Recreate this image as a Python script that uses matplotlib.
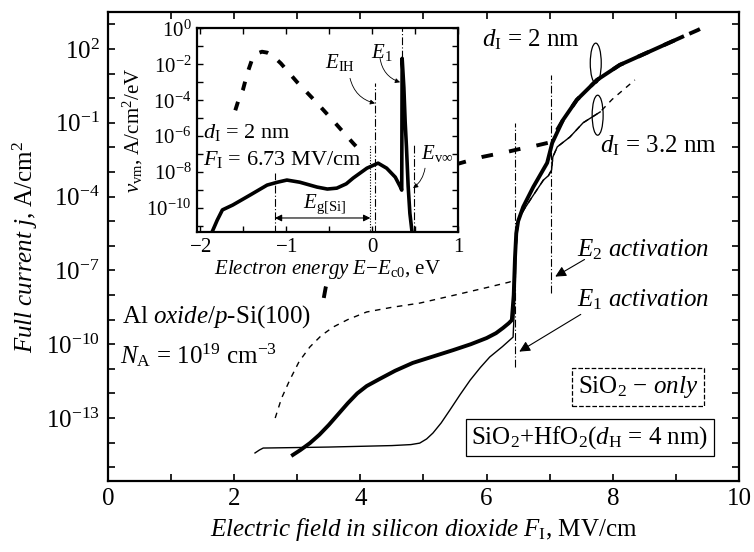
import numpy as np
import matplotlib
matplotlib.use("Agg")
import matplotlib.pyplot as plt
from matplotlib.patches import Ellipse, Rectangle
from matplotlib.ticker import FixedLocator, NullFormatter

plt.rcParams['font.family'] = ['Liberation Serif', 'DejaVu Serif']
plt.rcParams['mathtext.fontset'] = 'custom'
plt.rcParams['mathtext.rm'] = 'Liberation Serif'
plt.rcParams['mathtext.it'] = 'Liberation Serif:italic'
plt.rcParams['mathtext.bf'] = 'Liberation Serif:bold'

# ---- main plot: field F_I (MV/cm) vs log10 of full current j (A/cm^2)
# d_I = 2 nm, SiO2 + HfO2 (thick solid)
thick_hf_x = [2.93, 3.05, 3.2, 3.35, 3.5, 3.65, 3.8, 3.95, 4.1, 4.3, 4.55, 4.83, 5.15,
              5.47, 5.75, 6.0, 6.15, 6.26, 6.35, 6.4, 6.43, 6.45, 6.47, 6.5, 6.58, 6.74,
              6.96, 7.04, 7.21, 7.43, 7.75, 8.11, 8.64, 9.1]
thick_hf_logj = [-14.5, -14.3, -14.02, -13.68, -13.28, -12.84, -12.4, -12.0, -11.7, -11.42,
                 -11.08, -10.76, -10.5, -10.24, -10.0, -9.75, -9.55, -9.34, -9.15, -9.02,
                 -8.0, -6.5, -5.5, -5.0, -4.42, -3.61, -2.63, -1.82, -0.89, -0.07, 0.74,
                 1.35, 1.96, 2.49]
# d_I = 3.2 nm, SiO2 + HfO2 (thin solid)
thin_hf_x = [2.33, 2.4, 2.46, 3.0, 3.5, 4.0, 4.5, 4.8, 4.94, 5.05, 5.15, 5.28, 5.42, 5.58,
             5.74, 5.9, 6.05, 6.25, 6.42, 6.45, 6.47, 6.5, 6.6, 6.69, 6.9, 6.98, 7.03, 7.05,
             7.12, 7.32, 7.53, 7.8]
thin_hf_logj = [-14.42, -14.3, -14.22, -14.2, -14.18, -14.15, -14.12, -14.08, -14.02, -13.85,
                -13.61, -13.2, -12.67, -12.05, -11.46, -10.95, -10.52, -10.1, -9.71, -8.0,
                -6.0, -4.95, -4.5, -4.14, -3.33, -3.15, -2.92, -2.39, -1.98, -1.58, -1.0, -0.56]
# d_I = 2 nm, SiO2 only (thick dashed)
thick_ox_x = [3.42, 3.45, 3.5, 3.6, 3.8, 4.1, 4.5, 5.0, 5.5, 5.93, 6.1, 6.3, 6.5, 6.75, 7.0,
              7.21, 7.43, 7.75, 8.11, 8.64, 9.1, 9.35, 9.54]
thick_ox_logj = [-8.12, -7.7, -7.2, -6.6, -5.8, -4.9, -4.0, -3.2, -2.7, -2.39, -2.3, -2.2,
                 -2.08, -1.95, -1.8, -0.89, -0.07, 0.74, 1.35, 1.96, 2.49, 2.77, 3.02]
# d_I = 3.2 nm, SiO2 only (thin dashed)
thin_ox_x = [2.65, 2.75, 2.88, 3.03, 3.2, 3.38, 3.57, 3.8, 4.1, 4.5, 4.94, 5.5, 6.0, 6.37,
             6.44, 6.47, 6.5, 6.6, 6.69, 6.9, 6.98, 7.03, 7.05, 7.12, 7.32, 7.53, 7.8, 7.99, 8.35]
thin_ox_logj = [-13.0, -12.2, -11.46, -10.7, -10.11, -9.65, -9.3, -9.0, -8.69, -8.5, -8.33,
                -8.0, -7.7, -7.47, -7.3, -6.0, -4.95, -4.5, -4.14, -3.33, -3.15, -2.92, -2.39,
                -1.98, -1.58, -1.0, -0.56, -0.05, 0.74]

# activation fields (dash-dot markers): field, log10 j bottom, log10 j top
e1_act = [6.45, -10.93, -1.0]
e2_act = [7.02, -7.92, 0.94]

main_xticks = [0, 2, 4, 6, 8, 10]
main_xminor = [1, 3, 5, 7, 9]
main_ytick_pows = [2, -1, -4, -7, -10, -13]
main_yminor_pows = [3, 1, 0, -2, -3, -5, -6, -8, -9, -11, -12, -14, -15]

# ---- inset: electron energy E - E_c0 (eV) vs log10 v_vm (A/cm^2/eV)
inset_ox_e = [-1.59, -1.55, -1.50, -1.45, -1.40, -1.35, -1.28, -1.22, -1.16, -1.06, -0.87,
              -0.65, -0.45, -0.22, -0.12]
inset_ox_logv = [-4.56, -3.95, -3.4, -2.5, -1.8, -1.42, -1.3, -1.35, -1.5, -1.95, -3.0,
                 -4.1, -5.15, -6.39, -6.9]
inset_hf_e = [-1.86, -1.83, -1.80, -1.74, -1.62, -1.42, -1.22, -1.10, -0.99, -0.84, -0.64,
              -0.52, -0.41, -0.30, -0.22, -0.06, 0.07, 0.17, 0.27, 0.33, 0.345, 0.35, 0.37,
              0.385, 0.40, 0.42, 0.44, 0.465]
inset_hf_logv = [-11.33, -11.0, -10.67, -10.1, -9.83, -9.28, -8.72, -8.56, -8.44, -8.56,
                 -8.83, -8.94, -8.89, -8.65, -8.33, -7.78, -7.5, -7.78, -8.28, -8.83, -9.0,
                 -1.67, -3.3, -5.2, -6.6, -8.8, -10.3, -11.33]
# marker lines in the inset: energy, log10 v bottom, log10 v top, style
inset_marks = [(-1.13, -11.4, -8.06, 'dashdot'),
               (-0.02, -11.4, -6.5, 'dotted'),
               (0.035, -11.4, -3.06, 'dashdot'),
               (0.35, -1.67, 0.1, 'dashdot'),
               (0.49, -11.4, -6.5, 'dashdot')]
eg_span = [-1.13, -0.02]
eg_logv = -10.55

inset_xticks = [-2, -1, 0, 1]
inset_xminor = [-1.5, -0.5, 0.5]
inset_ytick_pows = [0, -2, -4, -6, -8, -10]
inset_yminor_pows = [-1, -3, -5, -7, -9, -11]

fig = plt.figure(figsize=(7.54, 5.52), dpi=100)
ax = fig.add_axes([0.1432, 0.1286, 0.8369, 0.8496])

dd = (0, (7, 2, 1, 2))
ax.plot(thick_ox_x, 10.0 ** np.array(thick_ox_logj), color='black', lw=2.8,
        dashes=(3, 4.2), zorder=2)
ax.plot(thin_ox_x, 10.0 ** np.array(thin_ox_logj), color='black', lw=1.0,
        dashes=(4, 4), zorder=2)
ax.plot(thick_hf_x, 10.0 ** np.array(thick_hf_logj), color='black', lw=2.8, zorder=3)
ax.plot(thin_hf_x, 10.0 ** np.array(thin_hf_logj), color='black', lw=1.0, zorder=3)
for f, lo, hi in (e1_act, e2_act):
    ax.plot([f, f], [10.0 ** lo, 10.0 ** hi], color='black', lw=0.8, linestyle=dd, zorder=1)

ax.set_xlim(0, 10)
ax.set_yscale('log')
ax.set_ylim(10.0 ** -15.56, 10.0 ** 3.5)
ax.set_xticks(main_xticks)
ax.xaxis.set_minor_locator(FixedLocator(main_xminor))
ax.yaxis.set_major_locator(FixedLocator([10.0 ** p for p in main_ytick_pows]))
ax.set_yticklabels([r'$10^{%d}$' % p for p in main_ytick_pows])
ax.yaxis.set_minor_locator(FixedLocator([10.0 ** p for p in main_yminor_pows]))
ax.yaxis.set_minor_formatter(NullFormatter())
ax.tick_params(which='both', direction='in', top=True, right=True, length=5, width=1.2,
               labelsize=18)
ax.tick_params(axis='x', pad=5)
ax.tick_params(axis='y', pad=6)
for s in ax.spines.values():
    s.set_linewidth(1.6)

ax.set_xlabel(r'$\mathit{Electric\ field\ in\ silicon\ dioxide}\ F_{\mathrm{I}}$, MV/cm',
              fontsize=18, labelpad=4)
ax.set_ylabel(r'$\mathit{Full\ current}\ j$, A/cm$^2$', fontsize=18, labelpad=4)

ax.add_patch(Ellipse((0.773, 0.891), 0.0174, 0.0853, transform=ax.transAxes, fill=False,
                     lw=0.9, zorder=4))
ax.add_patch(Ellipse((0.776, 0.780), 0.0174, 0.0853, transform=ax.transAxes, fill=False,
                     lw=0.9, zorder=4))
ax.text(0.593, 0.940, r'$d_{\mathrm{I}}$ = 2 nm', transform=ax.transAxes, fontsize=18,
        va='center')
ax.text(0.780, 0.716, r'$d_{\mathrm{I}}$ = 3.2 nm', transform=ax.transAxes, fontsize=18,
        va='center')
ax.text(0.743, 0.4925, r'$E_2$ $\mathit{activation}$', transform=ax.transAxes, fontsize=18,
        va='center')
ax.text(0.743, 0.386, r'$E_1$ $\mathit{activation}$', transform=ax.transAxes, fontsize=18,
        va='center')
ax.text(0.022, 0.350, r'Al $\mathit{oxide/}$$p$-Si(100)', transform=ax.transAxes,
        fontsize=18, va='center')
ax.text(0.019, 0.269, r'$N_{\mathrm{A}}$ = 10$^{19}$ cm$^{-3}$', transform=ax.transAxes,
        fontsize=18, va='center')
ax.text(0.840, 0.200, r'SiO$_2$ $-$ $\mathit{only}$', transform=ax.transAxes, fontsize=18,
        va='center', ha='center',
        bbox=dict(boxstyle='square,pad=0.25', fc='white', ec='black', lw=0.9, ls='--'))
ax.text(0.764, 0.093, r'SiO$_2$+HfO$_2$($d_{\mathrm{H}}$ = 4 nm)', transform=ax.transAxes,
        fontsize=18, va='center', ha='center',
        bbox=dict(boxstyle='square,pad=0.2', fc='white', ec='black', lw=0.9))

arr = dict(arrowstyle='-|>', color='black', lw=0.8, mutation_scale=16)
ax.annotate('', xy=(7.05, 10.0 ** -7.31), xytext=(7.59, 10.0 ** -6.5), arrowprops=arr)
ax.annotate('', xy=(6.48, 10.0 ** -10.36), xytext=(7.53, 10.0 ** -8.73), arrowprops=arr)

# white area behind the inset's axis labels
fig.patches.append(Rectangle((0.2613, 0.489), 0.35, 0.092, transform=fig.transFigure,
                             fc='white', ec='none', zorder=1))

# ---- inset
ins = fig.add_axes([0.2613, 0.5797, 0.3462, 0.3696], zorder=2)
ins.plot(inset_ox_e, 10.0 ** np.array(inset_ox_logv), color='black', lw=2.8,
         dashes=(2.3, 3.2))
ins.plot(inset_hf_e, 10.0 ** np.array(inset_hf_logv), color='black', lw=2.6)
for e, lo, hi, st in inset_marks:
    ls = dd if st == 'dashdot' else (0, (1, 1.5))
    ins.plot([e, e], [10.0 ** lo, 10.0 ** hi], color='black', lw=0.8, linestyle=ls)
ins.annotate('', xy=(eg_span[0], 10.0 ** eg_logv), xytext=(eg_span[1], 10.0 ** eg_logv),
             arrowprops=dict(arrowstyle='<|-|>', color='black', lw=0.8, mutation_scale=10,
                             shrinkA=0, shrinkB=0))
ins.set_xlim(-2.035, 1.0)
ins.set_yscale('log')
ins.set_ylim(10.0 ** -11.33, 10.0 ** 0.02)
ins.set_xticks(inset_xticks)
ins.set_xticklabels(['$-$2', '$-$1', '0', '1'])
ins.xaxis.set_minor_locator(FixedLocator(inset_xminor))
ins.yaxis.set_major_locator(FixedLocator([10.0 ** p for p in inset_ytick_pows]))
ins.set_yticklabels([r'$10^{%d}$' % p for p in inset_ytick_pows])
ins.yaxis.set_minor_locator(FixedLocator([10.0 ** p for p in inset_yminor_pows]))
ins.yaxis.set_minor_formatter(NullFormatter())
ins.tick_params(which='both', direction='in', top=True, right=True, length=4, width=1.0,
                labelsize=15, pad=4)
for s in ins.spines.values():
    s.set_linewidth(1.6)
ins.set_xlabel(r'$\mathit{Electron\ energy}\ E\mathit{-}E_{\mathrm{c0}}$, eV', fontsize=15,
               labelpad=1)
ins.set_ylabel(r'$v_{\mathrm{vm}}$, A/cm$^2$/eV', fontsize=15, labelpad=1)

ins.text(0.023, 0.488, r'$d_{\mathrm{I}}$ = 2 nm', transform=ins.transAxes, fontsize=16,
         va='center')
ins.text(0.023, 0.353, r'$F_{\mathrm{I}}$ = 6.73 MV/cm', transform=ins.transAxes,
         fontsize=16, va='center')
ins.text(0.487, 0.137, r'$E_{\mathrm{g[Si]}}$', transform=ins.transAxes, fontsize=15,
         ha='center', va='center')
ins.text(0.548, 0.833, r'$E_{\mathrm{IH}}$', transform=ins.transAxes, fontsize=15,
         ha='center', va='center')
ins.text(0.709, 0.882, r'$E_1$', transform=ins.transAxes, fontsize=15,
         ha='center', va='center')
ins.text(0.92, 0.387, r'$E_{\mathrm{v}\infty}$', transform=ins.transAxes, fontsize=15,
         ha='center', va='center')
thin_arr = dict(arrowstyle='-|>', color='black', lw=0.6, mutation_scale=7,
                connectionstyle='arc3,rad=0.3', shrinkA=0, shrinkB=0)
ins.annotate('', xy=(0.035, 10.0 ** -4.17), xytext=(-0.256, 10.0 ** -2.78), arrowprops=thin_arr)
ins.annotate('', xy=(0.326, 10.0 ** -3.0), xytext=(0.093, 10.0 ** -1.67), arrowprops=thin_arr)
ins.annotate('', xy=(0.477, 10.0 ** -8.89), xytext=(0.616, 10.0 ** -7.78),
             arrowprops=dict(thin_arr, connectionstyle='arc3,rad=-0.2'))

fig.savefig('out.png', dpi=100)
